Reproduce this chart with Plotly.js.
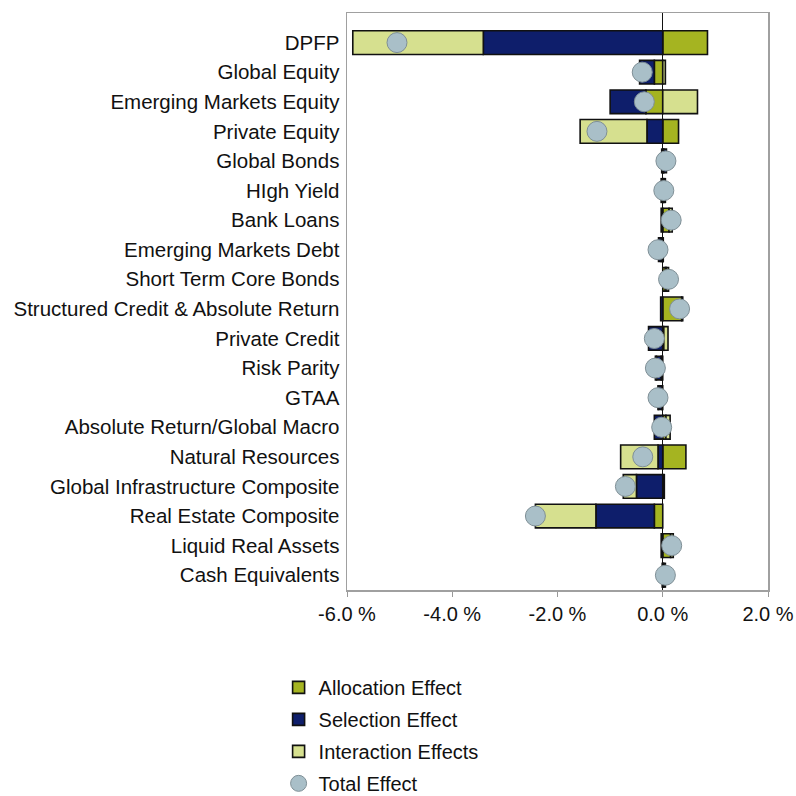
<!DOCTYPE html>
<html>
<head>
<meta charset="utf-8">
<script src="https://cdn.plot.ly/plotly-3.0.1.min.js"></script>
<style>html,body{margin:0;padding:0;background:#fff;}#chart{width:796px;height:796px;}</style>
</head>
<body>
<div id="chart"></div>
<script>
var categories = ["DPFP","Global Equity","Emerging Markets Equity","Private Equity","Global Bonds","HIgh Yield","Bank Loans","Emerging Markets Debt","Short Term Core Bonds","Structured Credit & Absolute Return","Private Credit","Risk Parity","GTAA","Absolute Return/Global Macro","Natural Resources","Global Infrastructure Composite","Real Estate Composite","Liquid Real Assets","Cash Equivalents"];
var allocationEffect = [0.85,-0.16,-0.32,0.30,0.02,0.02,0.12,-0.03,0.05,0.36,0.02,-0.03,-0.02,0.06,0.44,0.03,-0.16,0.15,0.02];
var selectionEffect = [-3.41,-0.28,-0.68,-0.30,0.05,-0.03,-0.03,-0.05,0.02,-0.04,-0.27,-0.09,-0.06,-0.16,-0.09,-0.50,-1.11,-0.03,0.03];
var interactionEffect = [-2.48,0.05,0.66,-1.27,-0.02,0.03,0.06,0.01,0.04,0.02,0.08,-0.02,-0.01,0.08,-0.71,-0.25,-1.15,0.05,-0.01];
var totalEffect = [-5.05,-0.39,-0.35,-1.25,0.06,0.02,0.16,-0.09,0.11,0.32,-0.16,-0.14,-0.09,-0.02,-0.38,-0.71,-2.42,0.17,0.05];
var xTickVals = [-6,-4,-2,0,2];
var xTickText = ["-6.0 %","-4.0 %","-2.0 %","0.0 %","2.0 %"];

var outline = {color:"#111111", width:1.6};
var traces = [
  {type:"bar", orientation:"h", name:"Allocation Effect", y:categories, x:allocationEffect,
   marker:{color:"#a5b421", line:outline}, width:0.8, legendgroup:"a"},
  {type:"bar", orientation:"h", name:"Selection Effect", y:categories, x:selectionEffect,
   marker:{color:"#0e1e6b", line:outline}, width:0.8, legendgroup:"s"},
  {type:"bar", orientation:"h", name:"Interaction Effects", y:categories, x:interactionEffect,
   marker:{color:"#d6e08f", line:outline}, width:0.8, legendgroup:"i"},
  {type:"scatter", mode:"markers", name:"Total Effect", y:categories, x:totalEffect,
   marker:{symbol:"circle", size:20, color:"#a9bfc8", line:{color:"#7f8f96", width:1}}, legendgroup:"t"}
];

var layout = {
  width:796, height:796,
  paper_bgcolor:"#ffffff", plot_bgcolor:"#ffffff",
  font:{family:"Liberation Sans, Arial, sans-serif", size:20, color:"#111111"},
  margin:{l:347, r:28, t:13, b:206, autoexpand:false},
  barmode:"relative",
  showlegend:true,
  legend:{xref:"container", yref:"container", x:0.35, xanchor:"left", y:0.161, yanchor:"top", orientation:"v",
          font:{size:20, color:"#111111"}, traceorder:"grouped", tracegroupgap:3,
          bgcolor:"rgba(0,0,0,0)"},
  xaxis:{range:[-6,2], tickvals:xTickVals, ticktext:xTickText, ticks:"outside", ticklen:5,
         tickcolor:"#999999", showgrid:false, zeroline:true, zerolinecolor:"#111111", zerolinewidth:1.2,
         showline:true, linecolor:"#a0a0a0", linewidth:1.5, mirror:true, fixedrange:true,
         automargin:false, tickfont:{size:20}},
  yaxis:{type:"category", range:[18.5,-1], showgrid:false, ticks:"", showline:true,
         linecolor:"#a0a0a0", linewidth:1.5, mirror:true, ticklabelstandoff:2,
         automargin:false, tickfont:{size:20.5}}
};

Plotly.newPlot("chart", traces, layout, {displayModeBar:false, staticPlot:true});
</script>
</body>
</html>
